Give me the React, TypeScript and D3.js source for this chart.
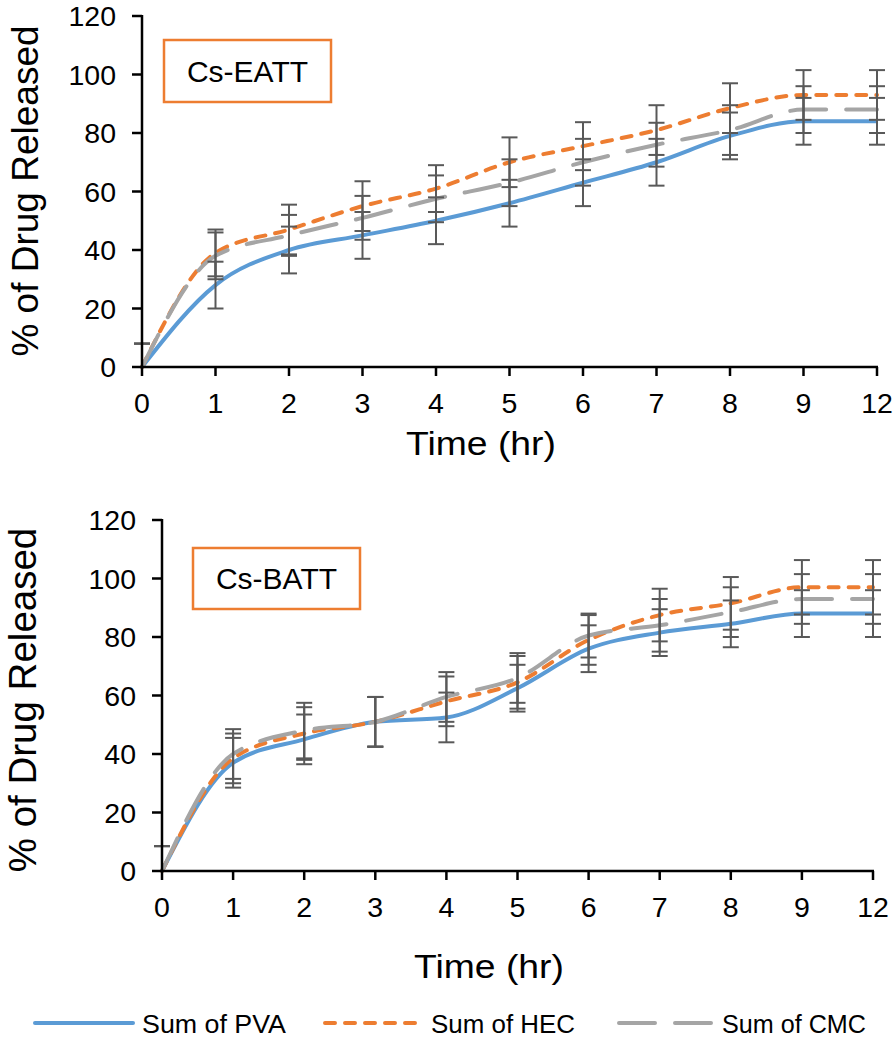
import React from 'react';
import * as d3 from 'd3';

// sampling times (hr) and y ticks
const hours = ['0', '1', '2', '3', '4', '5', '6', '7', '8', '9', '12'];
const yTicks = [0, 20, 40, 60, 80, 100, 120];
const seriesNames = ['Sum of PVA', 'Sum of HEC', 'Sum of CMC'];

// Cs-EATT
const eattPVA = [0, 28, 40, 45, 50, 56, 63, 70, 79, 84, 84];
const eattHEC = [0, 39, 47, 55, 61, 70, 75.5, 81, 88.5, 93, 93];
const eattCMC = [0, 38, 45, 51, 57.5, 63, 70, 76, 81, 88, 88];
const eattPVAErr = [8, 8, 8, 8, 8, 8, 8, 8, 8, 8, 8];
const eattHECErr = [8, 8, 8.5, 8.5, 8, 8.5, 8.2, 8.5, 8.5, 8.5, 8.5];
const eattCMCErr = [8, 8, 7, 7.5, 8, 8, 8, 7.5, 8.5, 8, 8];

// Cs-BATT
const battPVA = [0, 37, 45, 51, 52.5, 62.5, 76, 81.5, 84.5, 88, 88];
const battHEC = [0, 38.5, 47, 51, 58, 64.5, 79, 87.5, 91.5, 97, 97];
const battCMC = [0, 40, 48, 51, 59.5, 66, 80.5, 84, 88.5, 93, 93];
const battPVAErr = [8.5, 8.5, 8.5, 8.5, 8.5, 8, 8, 8, 8, 8, 8];
const battHECErr = [8.5, 8.5, 9, 8.5, 8.5, 9, 8.5, 9, 9, 9.3, 9.3];
const battCMCErr = [8.5, 8.5, 9.5, 8.5, 8.5, 8.5, 7.5, 9, 8.5, 8.5, 8.5];

const FONT = '"Liberation Sans", Arial, sans-serif';
const colors = ['#5B9BD5', '#ED7D31', '#A5A5A5'];
const dashes = [null, '10,10', '36,20'];

type PanelProps = {
  values: number[][];
  errors: number[][];
  x0: number; x1: number; yBase: number; yTop: number;
  label: string;
  box: { x: number; y: number; w: number; h: number };
  yTitle: { x: number; y: number; size: number };
  xTitle: { x: number; y: number };
};

const Panel = (p: PanelProps) => {
  const x = d3.scalePoint<string>().domain(hours).range([p.x0, p.x1]);
  const y = d3.scaleLinear().domain([0, 120]).range([p.yBase, p.yTop]);
  const line = d3.line<number>()
    .x((d, i) => x(hours[i]) as number)
    .y(d => y(d))
    .curve(d3.curveMonotoneX);

  return (
    <g>
      {/* series lines */}
      {p.values.map((vals, s) => (
        <path key={'l' + s} d={line(vals) || ''} fill="none" stroke={colors[s]}
          strokeWidth={4} strokeDasharray={dashes[s] || undefined}
          strokeLinecap={s === 0 ? 'butt' : 'round'} strokeLinejoin="round" />
      ))}
      {/* error bars */}
      {p.values.map((vals, s) => vals.map((v, i) => {
        const cx = x(hours[i]) as number;
        const hi = Math.min(120, v + p.errors[s][i]);
        const lo = Math.max(0, v - p.errors[s][i]);
        return (
          <g key={'e' + s + '-' + i} stroke="#595959" strokeWidth={2}>
            <line x1={cx} x2={cx} y1={y(lo)} y2={y(hi)} />
            <line x1={cx - 8} x2={cx + 8} y1={y(v + p.errors[s][i])} y2={y(v + p.errors[s][i])} />
            {v - p.errors[s][i] >= 0 && (
              <line x1={cx - 8} x2={cx + 8} y1={y(v - p.errors[s][i])} y2={y(v - p.errors[s][i])} />
            )}
          </g>
        );
      }))}
      {/* axes */}
      <g stroke="#000" strokeWidth={2.5}>
        <line x1={p.x0} x2={p.x0} y1={y(120) - 1} y2={y(0)} />
        <line x1={p.x0 - 1} x2={p.x1 + 1} y1={y(0)} y2={y(0)} />
        {yTicks.map(t => (
          <line key={'yt' + t} x1={p.x0 - 10} x2={p.x0} y1={y(t)} y2={y(t)} />
        ))}
        {hours.map(h => (
          <line key={'xt' + h} x1={x(h)} x2={x(h)} y1={y(0)} y2={y(0) + 9} />
        ))}
      </g>
      <g fontFamily={FONT} fontSize={28.5} fill="#000">
        {yTicks.map(t => (
          <text key={'yl' + t} x={p.x0 - 26} y={y(t)} dy="0.36em" textAnchor="end">{t}</text>
        ))}
        {hours.map(h => (
          <text key={'xl' + h} x={x(h)} y={y(0) + 46} textAnchor="middle">{h}</text>
        ))}
      </g>
      <text x={p.xTitle.x} y={p.xTitle.y} fontFamily={FONT} fontSize={33} textAnchor="middle"
        textLength={150} lengthAdjust="spacingAndGlyphs">Time (hr)</text>
      <text transform={`translate(${p.yTitle.x},${p.yTitle.y}) rotate(-90)`} fontFamily={FONT}
        fontSize={p.yTitle.size} textAnchor="middle">% of Drug Released</text>
      {/* sample label */}
      <rect x={p.box.x} y={p.box.y} width={p.box.w} height={p.box.h} fill="#fff"
        stroke="#ED7D31" strokeWidth={2.5} />
      <text x={p.box.x + p.box.w / 2} y={p.box.y + p.box.h / 2} dy="0.36em" fontFamily={FONT}
        fontSize={30} textAnchor="middle">{p.label}</text>
    </g>
  );
};

const legendItems = [
  { x1: 35, x2: 133, tx: 142 },
  { x1: 325, x2: 421, tx: 431 },
  { x1: 619, x2: 713, tx: 722 },
];

export default function App() {
  return (
    <div style={{ position: 'absolute', left: 0, top: 0 }}>
      <svg width={896} height={1038} style={{ display: 'block', background: '#fff' }}>
        <Panel
          values={[eattPVA, eattHEC, eattCMC]}
          errors={[eattPVAErr, eattHECErr, eattCMCErr]}
          x0={142} x1={877} yBase={367} yTop={16}
          label="Cs-EATT"
          box={{ x: 164, y: 40, w: 167, h: 62 }}
          yTitle={{ x: 38, y: 191, size: 37 }}
          xTitle={{ x: 481, y: 455 }}
        />
        <Panel
          values={[battPVA, battHEC, battCMC]}
          errors={[battPVAErr, battHECErr, battCMCErr]}
          x0={162} x1={873} yBase={871} yTop={520}
          label="Cs-BATT"
          box={{ x: 193, y: 548, w: 167, h: 61 }}
          yTitle={{ x: 36, y: 700, size: 38.5 }}
          xTitle={{ x: 489, y: 978 }}
        />
        {/* legend */}
        {seriesNames.map((name, s) => (
          <g key={name}>
            <line x1={legendItems[s].x1} x2={legendItems[s].x2} y1={1023} y2={1023}
              stroke={colors[s]} strokeWidth={4} strokeDasharray={dashes[s] || undefined}
              strokeLinecap="round" />
            <text x={legendItems[s].tx} y={1033} fontFamily={FONT} fontSize={26.5}
              textLength={144} lengthAdjust="spacingAndGlyphs">{name}</text>
          </g>
        ))}
      </svg>
    </div>
  );
}
